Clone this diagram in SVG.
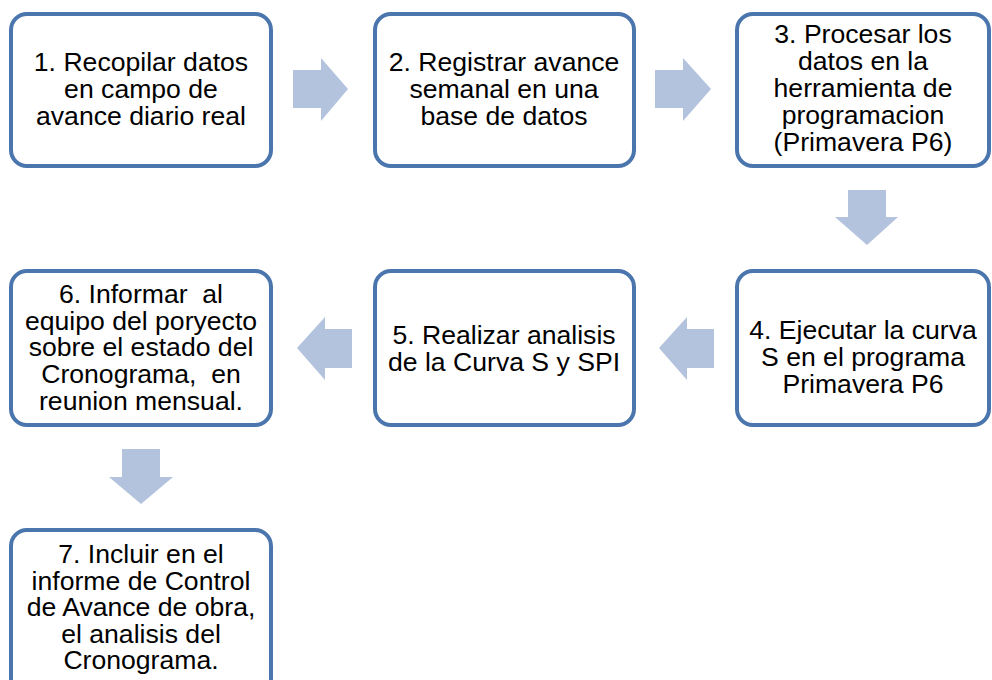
<svg xmlns="http://www.w3.org/2000/svg" width="992" height="680" viewBox="0 0 992 680">
<style>
.box{fill:#ffffff;stroke:#4A76AD;stroke-width:4}
.arr{fill:#B3C3DE}
text{font-family:"Liberation Sans",Arial,sans-serif;font-size:26.6px;fill:#000000;text-anchor:middle}
</style>
<rect width="992" height="680" fill="#ffffff"/>
<g id="connectors">
<polygon class="arr" points="293,70 321,70 321,58 348,89 321,121 321,108 293,108"/>
<polygon class="arr" points="655,70 683,70 683,58 711,89 683,121 683,108 655,108"/>
<polygon class="arr" points="848,190 886,190 886,217 898,217 867,245 835,217 848,217"/>
<polygon class="arr" points="714,329 687,329 687,317 659,348 687,380 687,368 714,368"/>
<polygon class="arr" points="352,329 325,329 325,317 297,348 325,380 325,368 352,368"/>
<polygon class="arr" points="122,449 160,449 160,477 173,477 141,504 109,477 122,477"/>
</g>
<g id="node1">
<rect class="box" x="11" y="14" width="260" height="152" rx="16"/>
<text x="141" y="71">1. Recopilar datos</text>
<text x="141" y="98">en campo de</text>
<text x="141" y="125">avance diario real</text>
</g>
<g id="node2">
<rect class="box" x="375" y="14" width="259" height="152" rx="16"/>
<text x="504" y="71">2. Registrar avance</text>
<text x="504" y="98">semanal en una</text>
<text x="504" y="125">base de datos</text>
</g>
<g id="node3">
<rect class="box" x="737" y="14" width="252" height="152" rx="16"/>
<text x="863" y="43">3. Procesar los</text>
<text x="863" y="70">datos en la</text>
<text x="863" y="97">herramienta de</text>
<text x="863" y="124">programacion</text>
<text x="863" y="151">(Primavera P6)</text>
</g>
<g id="node4">
<rect class="box" x="737" y="271" width="252" height="154" rx="16"/>
<text x="863" y="339">4. Ejecutar la curva</text>
<text x="863" y="366">S en el programa</text>
<text x="863" y="393">Primavera P6</text>
</g>
<g id="node5">
<rect class="box" x="375" y="271" width="259" height="154" rx="16"/>
<text x="504" y="344">5. Realizar analisis</text>
<text x="504" y="371">de la Curva S y SPI</text>
</g>
<g id="node6">
<rect class="box" x="11" y="271" width="260" height="154" rx="16"/>
<text x="141" y="303" xml:space="preserve">6. Informar  al</text>
<text x="141" y="330">equipo del poryecto</text>
<text x="141" y="356">sobre el estado del</text>
<text x="141" y="383" xml:space="preserve">Cronograma,  en</text>
<text x="141" y="410">reunion mensual.</text>
</g>
<g id="node7">
<rect class="box" x="11" y="530" width="260" height="170" rx="16"/>
<text x="141" y="563">7. Incluir en el</text>
<text x="141" y="590">informe de Control</text>
<text x="141" y="616">de Avance de obra,</text>
<text x="141" y="643">el analisis del</text>
<text x="141" y="669">Cronograma.</text>
</g>
</svg>
